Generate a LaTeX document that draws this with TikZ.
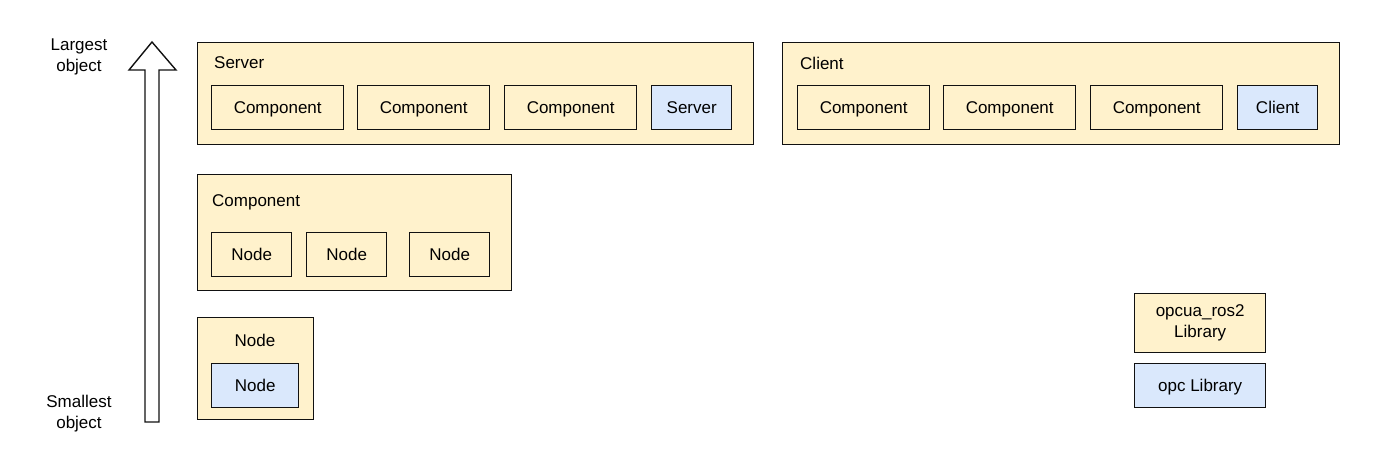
\documentclass[tikz,border=0pt]{standalone}
\usepackage{fontspec}
\setmainfont{Liberation Sans}
\definecolor{yellowbox}{HTML}{FFF2CC}
\definecolor{bluebox}{HTML}{DAE8FC}
\definecolor{edge}{HTML}{111111}

\begin{document}
\begin{tikzpicture}[x=1pt,y=-1pt,
  font=\fontsize{17}{21}\selectfont,
  outer/.style={draw=edge, line width=1.4pt, fill=yellowbox, anchor=north west, inner sep=0pt},
  part/.style={draw=edge, line width=1.4pt, fill=yellowbox, anchor=north west, inner sep=0pt,
    minimum height=44, text height=14, text depth=2},
  lib/.style={part, fill=bluebox},
  lbl/.style={anchor=west, inner sep=0pt},
  side/.style={align=center, inner sep=0pt}]

  \useasboundingbox (0,0) rectangle (1387,468);

  % size arrow
  \coordinate (top) at (152,42);
  \coordinate (bottom) at (152,422);
  \draw[edge, line width=1.4pt, fill=white] (145,422) -- (145,70) -- (129,70) -- (top)
    -- (176,70) -- (159,70) -- (159,422) -- cycle;
  \node[side] (largest) at (79,57) {Largest\\object};
  \node[side] (smallest) at (79,414) {Smallest\\object};

  % server
  \node[outer, minimum width=556, minimum height=102] (server) at (197,42) {};
  \node[lbl] (serverlbl) at (214,63) {Server};
  \node[part, minimum width=132] (scomp1) at (211,85) {Component};
  \node[part, minimum width=132] (scomp2) at (357,85) {Component};
  \node[part, minimum width=132] (scomp3) at (504,85) {Component};
  \node[lib, minimum width=80] (sopc) at (651,85) {Server};

  % client
  \node[outer, minimum width=557, minimum height=102] (client) at (782,42) {};
  \node[lbl] (clientlbl) at (800,63) {Client};
  \node[part, minimum width=132] (ccomp1) at (797,85) {Component};
  \node[part, minimum width=132] (ccomp2) at (943,85) {Component};
  \node[part, minimum width=132] (ccomp3) at (1090,85) {Component};
  \node[lib, minimum width=80] (copc) at (1237,85) {Client};

  % component
  \node[outer, minimum width=314, minimum height=116] (component) at (197,174) {};
  \node[lbl] (componentlbl) at (212,202) {Component};
  \node[part, minimum width=80] (cnode1) at (211,232) {Node};
  \node[part, minimum width=80] (cnode2) at (306,232) {Node};
  \node[part, minimum width=80] (cnode3) at (409,232) {Node};

  % node
  \node[outer, minimum width=116, minimum height=102] (node) at (197,317) {};
  \node[side] (nodelbl) at (255,340) {Node};
  \node[lib, minimum width=87] (nopc) at (211,363) {Node};

  % legend
  \node[part, align=center, minimum width=131, minimum height=59, text height=, text depth=] (rosleg) at (1134,293) {opcua\_ros2\\Library};
  \node[lib, minimum width=131] (opcleg) at (1134,363) {opc Library};
\end{tikzpicture}
\end{document}
